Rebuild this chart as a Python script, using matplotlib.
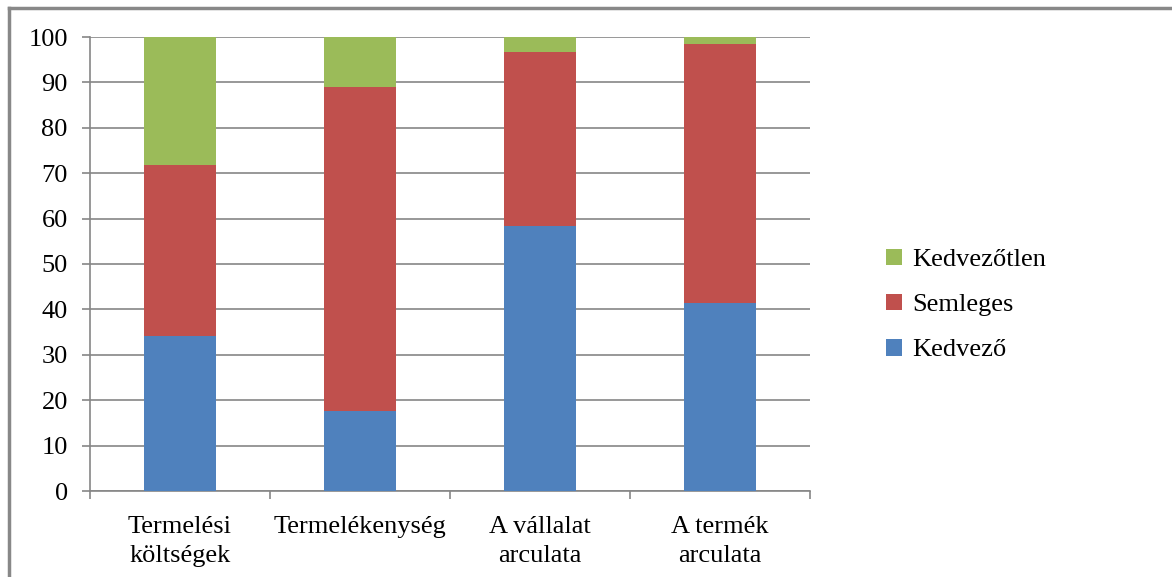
import matplotlib
matplotlib.use("Agg")
import matplotlib.pyplot as plt
from matplotlib.lines import Line2D
import numpy as np

categories = ["Termelési\nköltségek", "Termelékenység", "A vállalat\narculata", "A termék\narculata"]
kedvezo = [34.2, 17.6, 58.4, 41.4]
semleges = [37.6, 71.4, 38.3, 57.1]
kedvezotlen = [28.2, 11.0, 3.3, 1.5]
series_names = ["Kedvező", "Semleges", "Kedvezőtlen"]
colors = ["#4F81BD", "#C0504D", "#9BBB59"]
yticks = [0, 10, 20, 30, 40, 50, 60, 70, 80, 90, 100]

plt.rcParams['font.family'] = ['Liberation Serif', 'DejaVu Serif']

W, H = 1172, 577
fig = plt.figure(figsize=(W / 100, H / 100), dpi=100)
ax = fig.add_axes([90 / W, 1 - 491 / H, 720 / W, 454 / H])

x = np.arange(len(categories))
bottom = np.zeros(len(categories))
handles = []
for vals, name, c in zip([kedvezo, semleges, kedvezotlen], series_names, colors):
    b = ax.bar(x, vals, width=0.4, bottom=bottom, color=c, label=name, zorder=3)
    handles.append(b)
    bottom += np.array(vals)

ax.set_xlim(-0.5, len(categories) - 0.5)
ax.set_ylim(0, 100)
ax.set_yticks(yticks)
ax.set_yticklabels([str(v) for v in yticks], fontsize=19)
ax.yaxis.grid(True, color="#868686", linewidth=1.2, zorder=0)
ax.set_axisbelow(True)

ax.set_xticks(x)
ax.set_xticklabels(categories, fontsize=19, linespacing=1.4)
ax.tick_params(axis='x', length=0, pad=18)
ax.set_xticks(np.arange(-0.5, len(categories)), minor=True)
ax.tick_params(axis='x', which='minor', length=6, color="#868686", width=1.2, direction='out')
ax.tick_params(axis='y', length=6, color="#868686", width=1.2, direction='out', pad=10)

for s in ["top", "right"]:
    ax.spines[s].set_visible(False)
for s in ["left", "bottom"]:
    ax.spines[s].set_color("#868686")
    ax.spines[s].set_linewidth(1.2)

leg = fig.legend(handles[::-1], series_names[::-1], loc="center left",
                 bbox_to_anchor=(862 / W, 1 - 305 / H), frameon=False,
                 fontsize=19, handlelength=0.6, handleheight=0.6,
                 handletextpad=0.4, labelspacing=0.85)

# outer chart border (top and left)
fig.add_artist(Line2D([9 / W, 1], [1 - 8 / H, 1 - 8 / H], color="#888888", linewidth=2.5, transform=fig.transFigure))
fig.add_artist(Line2D([9 / W, 9 / W], [0, 1 - 8 / H], color="#888888", linewidth=2.5, transform=fig.transFigure))

fig.savefig("out.png", dpi=100)
